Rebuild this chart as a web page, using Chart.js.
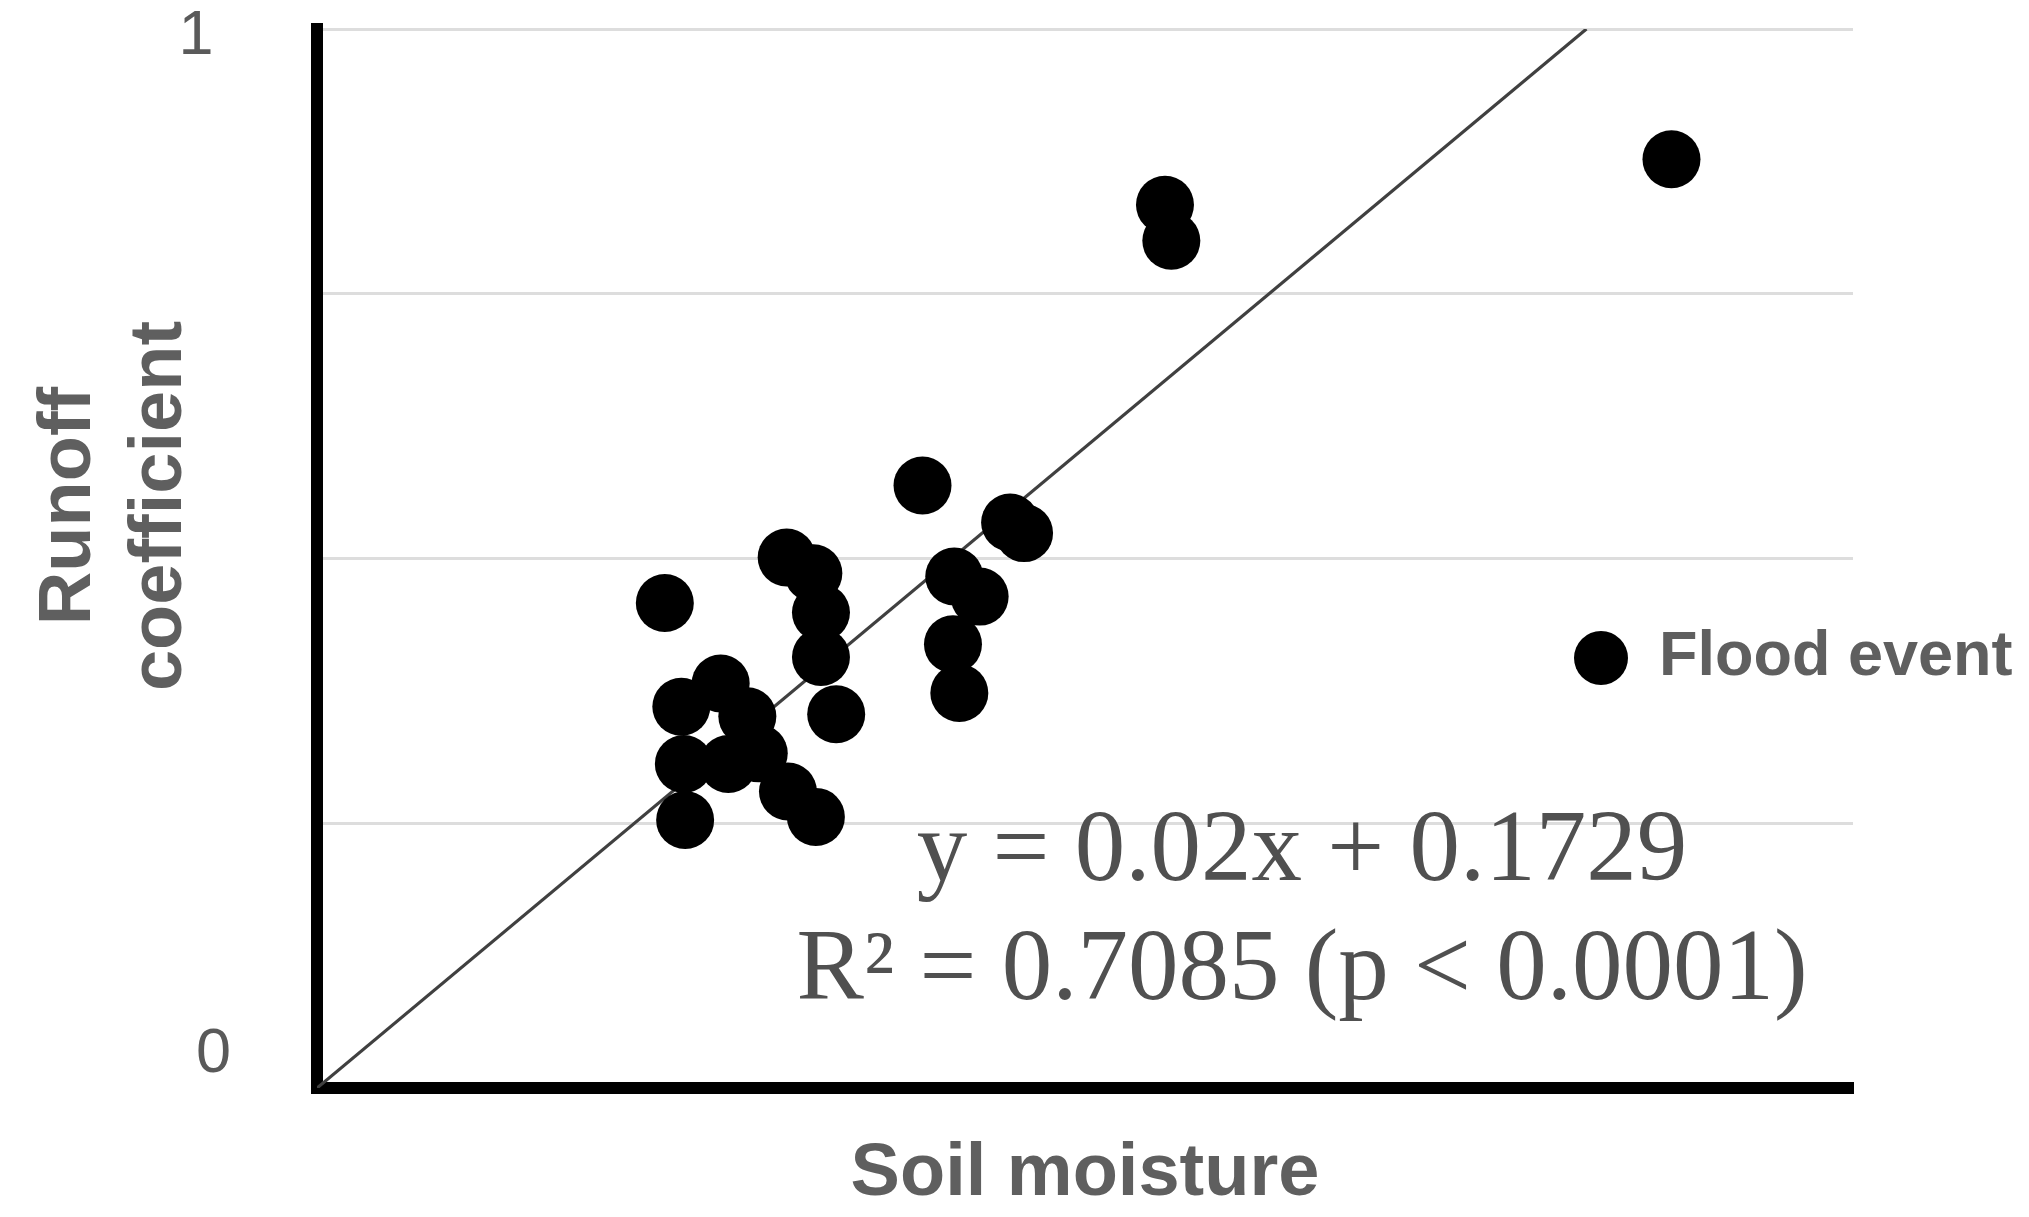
<!DOCTYPE html>
<html>
<head>
<meta charset="utf-8">
<script src="https://cdn.jsdelivr.net/npm/chart.js@4/dist/chart.umd.min.js"></script>
<style>
html,body{margin:0;padding:0;background:#ffffff;}
#wrap{width:2029px;height:1217px;position:relative;}
</style>
</head>
<body>
<div id="wrap"><canvas id="c" width="2029" height="1217"></canvas></div>
<script>
// ---- data ----
const soilMoisture = [0.274, 0.287, 0.318, 0.339, 0.289, 0.324, 0.348, 0.371, 0.393, 0.290,
                      0.370, 0.391, 0.397, 0.397, 0.409, 0.477, 0.546, 0.557, 0.502, 0.522,
                      0.501, 0.506, 0.668, 0.673, 1.067];
const runoffCoefficient = [0.458, 0.360, 0.382, 0.351, 0.306, 0.306, 0.316, 0.280, 0.256, 0.253,
                           0.501, 0.486, 0.449, 0.407, 0.353, 0.569, 0.534, 0.524, 0.483, 0.464,
                           0.419, 0.373, 0.834, 0.800, 0.877];
const trendX = [0, 1];
const trendY = [0, 1];
const yTickValues = [0, 0.25, 0.5, 0.75, 1];
const yTickLabels = ['0', '', '', '', '1'];
const xAxisTitle = 'Soil moisture';
const yAxisTitle = ['Runoff', 'coefficient'];
const legendLabel = 'Flood event';
const equationLines = ['y = 0.02x + 0.1729', 'R\u00B2 = 0.7085 (p < 0.0001)'];

// ---- styles / placement ----
const SANS = '"Liberation Sans", Arial, sans-serif';
const SERIF = '"Liberation Serif", "Times New Roman", serif';
const TITLE_COLOR = '#5f5f5f';
const TICK_COLOR = '#5a5a5a';
const place = {
  eqX: 0.776, eqY1: 0.196, eqY2: 0.084,       // equation anchor in data units
  legendX: 1601, legendY: 658, legendR: 27, legendTextX: 1659,
  yTitleX1: 90, yTitleX2: 181, yTitleY: 506
};

const scatterData = soilMoisture.map((v, i) => ({x: v, y: runoffCoefficient[i]}));
const trendData = trendX.map((v, i) => ({x: v, y: trendY[i]}));

const annotations = {
  id: 'annotations',
  afterDatasetsDraw(chart) {
    const {ctx, scales: {x, y}} = chart;
    ctx.save();
    // regression text
    ctx.fillStyle = '#505050';
    ctx.font = '101px ' + SERIF;
    ctx.textAlign = 'center';
    ctx.textBaseline = 'alphabetic';
    const ex = x.getPixelForValue(place.eqX);
    ctx.fillText(equationLines[0], ex, y.getPixelForValue(place.eqY1));
    ctx.fillText(equationLines[1], ex, y.getPixelForValue(place.eqY2));
    // legend
    ctx.fillStyle = '#000000';
    ctx.beginPath();
    ctx.arc(place.legendX, place.legendY, place.legendR, 0, Math.PI * 2);
    ctx.fill();
    ctx.fillStyle = TITLE_COLOR;
    ctx.font = 'bold 63px ' + SANS;
    ctx.textAlign = 'left';
    ctx.textBaseline = 'middle';
    ctx.fillText(legendLabel, place.legendTextX, place.legendY);
    // y axis title (two lines, rotated)
    ctx.font = 'bold 74px ' + SANS;
    ctx.textAlign = 'center';
    ctx.textBaseline = 'alphabetic';
    [place.yTitleX1, place.yTitleX2].forEach((bx, i) => {
      ctx.save();
      ctx.translate(bx, place.yTitleY);
      ctx.rotate(-Math.PI / 2);
      ctx.fillText(yAxisTitle[i], 0, 0);
      ctx.restore();
    });
    ctx.restore();
  }
};

new Chart(document.getElementById('c'), {
  type: 'scatter',
  data: {
    datasets: [
      {
        label: legendLabel,
        data: scatterData,
        backgroundColor: '#000000',
        borderColor: '#000000',
        borderWidth: 0,
        pointRadius: 29,
        pointHoverRadius: 29,
        order: 1
      },
      {
        type: 'line',
        label: 'trend',
        data: trendData,
        showLine: true,
        borderColor: '#404040',
        borderWidth: 3.2,
        pointRadius: 0,
        fill: false,
        order: 2
      }
    ]
  },
  options: {
    responsive: false,
    devicePixelRatio: 1,
    animation: false,
    events: [],
    layout: {padding: {top: 28, right: 176, left: 0, bottom: 0}},
    plugins: {legend: {display: false}, title: {display: false}, tooltip: {enabled: false}},
    scales: {
      x: {
        type: 'linear',
        position: 'bottom',
        min: 0,
        max: 1.21,
        ticks: {display: false},
        grid: {display: false},
        border: {display: true, color: '#000000', width: 12},
        title: {
          display: true,
          text: xAxisTitle,
          color: TITLE_COLOR,
          font: {family: SANS, size: 74, weight: 'bold', lineHeight: 1.14},
          padding: 0
        },
        afterFit(s) { s.height = 129; }
      },
      y: {
        type: 'linear',
        position: 'left',
        min: 0,
        max: 1,
        afterBuildTicks(s) { s.ticks = yTickValues.map(v => ({value: v})); },
        ticks: {
          color: TICK_COLOR,
          padding: 86,
          font: (c) => ({family: SANS, size: 63, lineHeight: (c.tick && c.tick.value === 1) ? '15px' : '66px'}),
          callback(value) {
            const idx = yTickValues.indexOf(value);
            const lab = idx >= 0 ? yTickLabels[idx] : '';
            if (lab === '') return '';
            return value === 0 ? [lab, ''] : ['', lab + ' '];
          }
        },
        grid: {color: '#dddddd', lineWidth: 3, drawTicks: false},
        border: {display: true, color: '#000000', width: 12},
        afterFit(s) { s.width = 317; s.paddingTop = 0; s.paddingBottom = 0; }
      }
    }
  },
  plugins: [annotations]
});
</script>
</body>
</html>
